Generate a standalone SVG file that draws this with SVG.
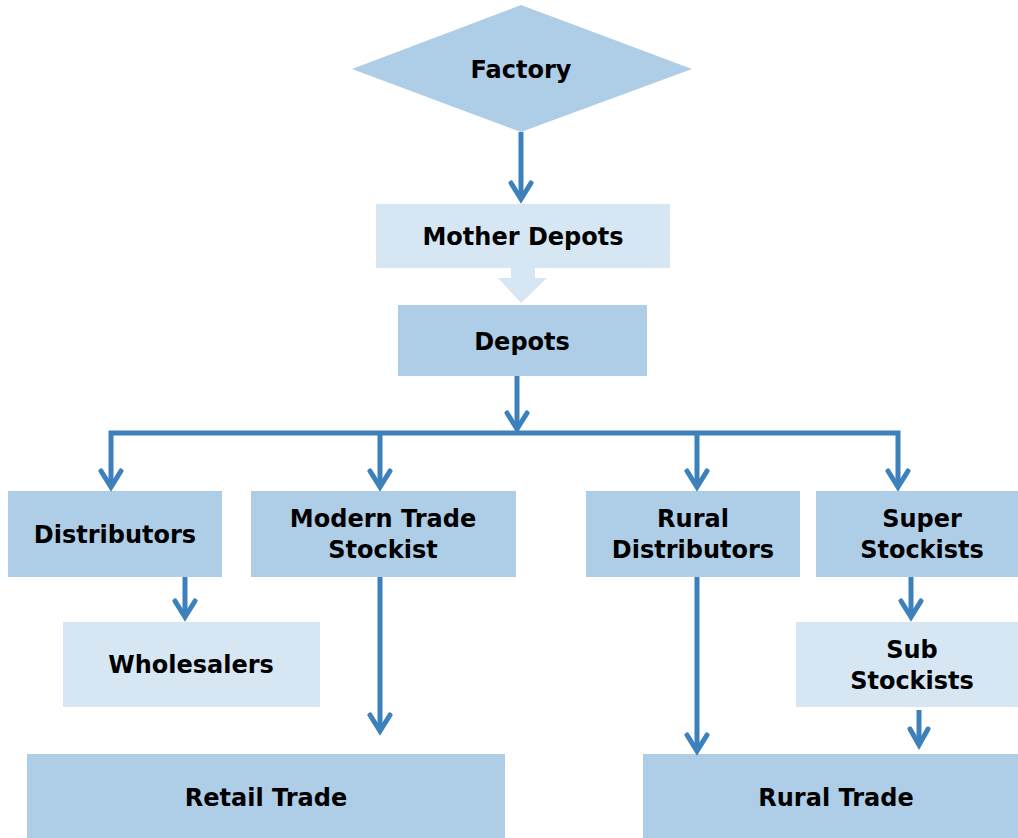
<svg xmlns="http://www.w3.org/2000/svg" width="1018" height="838" viewBox="0 0 1018 838">
<defs>
<style>
.dark{fill:#aecde6}
.light{fill:#d6e6f3}
.t{font-family:"DejaVu Sans",sans-serif;font-weight:bold;font-size:24px;fill:#000;text-anchor:middle}
.c{fill:none;stroke:#3c80bc;stroke-width:5;stroke-linejoin:miter}
.h{fill:none;stroke:#3c80bc;stroke-width:5;stroke-linecap:round;stroke-linejoin:miter}
</style>
</defs>
<rect width="1018" height="838" fill="#fff"/>
<g id="factory"><polygon class="dark" points="352,69 521,5 692,69 521,132"/><text class="t" x="521" y="78">Factory</text></g>
<g id="mother-depots"><rect class="light" x="376" y="204" width="294" height="64"/><text class="t" x="523" y="245">Mother Depots</text></g>
<g id="depots"><rect class="dark" x="398" y="305" width="249" height="71"/><text class="t" x="522" y="350">Depots</text></g>
<g id="distributors"><rect class="dark" x="8" y="491" width="214" height="86"/><text class="t" x="115" y="543">Distributors</text></g>
<g id="modern-trade-stockist"><rect class="dark" x="251" y="491" width="265" height="86"/><text class="t" x="383" y="527">Modern Trade</text><text class="t" x="383" y="558">Stockist</text></g>
<g id="rural-distributors"><rect class="dark" x="586" y="491" width="214" height="86"/><text class="t" x="693" y="527">Rural</text><text class="t" x="693" y="558">Distributors</text></g>
<g id="super-stockists"><rect class="dark" x="816" y="491" width="202" height="86"/><text class="t" x="922" y="527">Super</text><text class="t" x="922" y="558">Stockists</text></g>
<g id="wholesalers"><rect class="light" x="63" y="622" width="257" height="85"/><text class="t" x="191" y="673">Wholesalers</text></g>
<g id="sub-stockists"><rect class="light" x="796" y="622" width="222" height="85"/><text class="t" x="912" y="658">Sub</text><text class="t" x="912" y="689">Stockists</text></g>
<g id="retail-trade"><rect class="dark" x="27" y="754" width="478" height="84"/><text class="t" x="266" y="806">Retail Trade</text></g>
<g id="rural-trade"><rect class="dark" x="643" y="754" width="375" height="84"/><text class="t" x="836" y="806">Rural Trade</text></g>
<g id="connectors">
<polygon class="light" points="511,268 535,268 535,278 547,278 521,303 498,278 511,278"/>
<path class="c" d="M521,132V198"/><path class="h" d="M511,183L521,199L531,183"/>
<path class="c" d="M517,376V428"/><path class="h" d="M507,413L517,429L527,413"/>
<path class="c" d="M111,487V433H898V487"/>
<path class="c" d="M380,433V487"/><path class="c" d="M697,433V487"/>
<path class="h" d="M101,471L111,487L121,471"/>
<path class="h" d="M370,471L380,487L390,471"/>
<path class="h" d="M687,471L697,487L707,471"/>
<path class="h" d="M888,471L898,487L908,471"/>
<path class="c" d="M185,577V616"/><path class="h" d="M175,601L185,617L195,601"/>
<path class="c" d="M911,577V616"/><path class="h" d="M901,601L911,617L921,601"/>
<path class="c" d="M380,577V730"/><path class="h" d="M370,715L380,731L390,715"/>
<path class="c" d="M697,577V750"/><path class="h" d="M687,735L697,751L707,735"/>
<path class="c" d="M919,710V744"/><path class="h" d="M910,729L919,745L928,729"/>
</g>
</svg>
